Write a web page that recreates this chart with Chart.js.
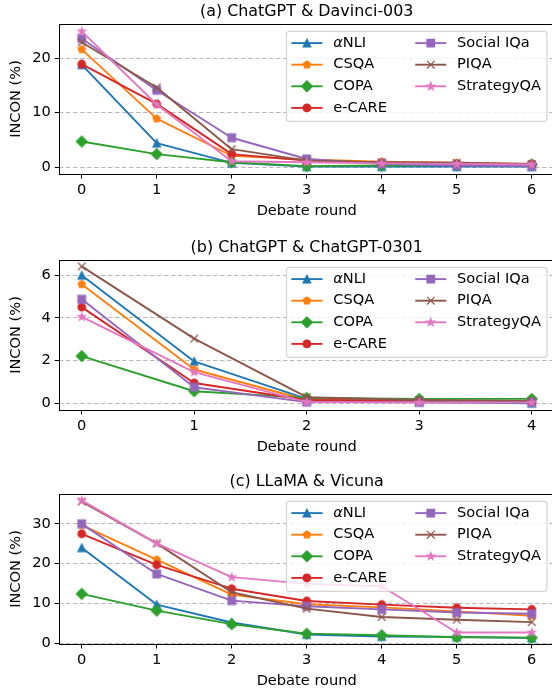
<!DOCTYPE html>
<html>
<head>
<meta charset="utf-8">
<script src="https://cdn.jsdelivr.net/npm/chart.js@4/dist/chart.umd.min.js"></script>
<style>
html,body{margin:0;padding:0;background:#fff;overflow:hidden;width:552px;height:696px;position:relative;}
.panel{position:absolute;left:0;width:560px;height:235px;}
canvas{display:block;}
</style>
</head>
<body>
<div class="panel" style="top:0px"><canvas id="chartA" width="560" height="235"></canvas></div>
<div class="panel" style="top:236px"><canvas id="chartB" width="560" height="235"></canvas></div>
<div class="panel" style="top:470px"><canvas id="chartC" width="560" height="235"></canvas></div>
<script>
// ---------------- data ----------------
const seriesNames   = ['αNLI', 'CSQA', 'COPA', 'e-CARE', 'Social IQa', 'PIQA', 'StrategyQA'];
const seriesColors  = ['#1f77b4', '#ff7f0e', '#2ca02c', '#d62728', '#9467bd', '#8c564b', '#e377c2'];
const seriesMarkers = ['triangle', 'pentagon', 'diamond', 'circle', 'square', 'x', 'star'];

const titleA = '(a) ChatGPT & Davinci-003';
const titleB = '(b) ChatGPT & ChatGPT-0301';
const titleC = '(c) LLaMA & Vicuna';
const xAxisLabel = 'Debate round';
const yAxisLabel = 'INCON (%)';

const roundsA = [0, 1, 2, 3, 4, 5, 6];
const roundsB = [0, 1, 2, 3, 4];
const roundsC = [0, 1, 2, 3, 4, 5, 6];

const yTicksA = [0, 10, 20];
const yTicksB = [0, 2, 4, 6];
const yTicksC = [0, 10, 20, 30];

// (a) ChatGPT & Davinci-003
const a_aNLI       = [18.8, 4.4, 0.8, 0.1, 0.1, 0.1, 0.1];
const a_CSQA       = [21.6, 8.9, 2.1, 1.4, 1.0, 0.8, 0.6];
const a_COPA       = [4.7, 2.4, 0.9, 0.2, 0.3, 0.4, 0.5];
const a_eCARE      = [18.9, 11.6, 2.4, 1.2, 0.8, 0.6, 0.5];
const a_SocialIQa  = [23.6, 14.1, 5.4, 1.5, 0.6, 0.3, 0.2];
const a_PIQA       = [22.9, 14.6, 3.3, 1.2, 0.9, 0.8, 0.6];
const a_StrategyQA = [24.9, 11.5, 1.1, 0.9, 0.7, 0.6, 0.5];

// (b) ChatGPT & ChatGPT-0301
const b_aNLI       = [6.0, 1.96, 0.2, 0.05, 0.0];
const b_CSQA       = [5.58, 1.58, 0.15, 0.1, 0.05];
const b_COPA       = [2.21, 0.56, 0.25, 0.2, 0.2];
const b_eCARE      = [4.51, 0.95, 0.15, 0.1, 0.05];
const b_SocialIQa  = [4.88, 0.75, 0.05, 0.05, 0.05];
const b_PIQA       = [6.42, 3.03, 0.28, 0.15, 0.1];
const b_StrategyQA = [4.05, 1.46, 0.05, 0.03, 0.03];

// (c) LLaMA & Vicuna
const c_aNLI       = [24.0, 9.7, 5.2, 2.2, 1.7, 1.6, 1.3];
const c_CSQA       = [29.7, 21.0, 12.2, 9.8, 9.0, 8.0, 6.9];
const c_COPA       = [12.4, 8.2, 4.8, 2.4, 2.0, 1.5, 1.4];
const c_eCARE      = [27.5, 19.7, 13.7, 10.6, 9.7, 8.9, 8.5];
const c_SocialIQa  = [30.0, 17.4, 10.7, 9.3, 8.5, 7.7, 7.4];
const c_PIQA       = [35.6, 25.1, 12.8, 8.7, 6.6, 5.9, 5.3];
const c_StrategyQA = [35.9, 25.1, 16.6, 14.9, 14.3, 2.7, 2.7];

// ---------------- style ----------------
const FONT = 'DejaVu Sans';
const FS = 14.6;       // label font size (px)
const TITLE_FS = 15.9;
const MS = 7.6;        // marker size
const MEW = 1.22;      // marker edge width
const LW = 1.9;        // line width

function markerPath(ctx, shape, x, y, ms) {
  const r = ms / 2;
  ctx.beginPath();
  if (shape === 'circle') {
    ctx.arc(x, y, r, 0, Math.PI * 2);
  } else if (shape === 'triangle') {
    ctx.moveTo(x, y - r); ctx.lineTo(x + r, y + r); ctx.lineTo(x - r, y + r); ctx.closePath();
  } else if (shape === 'square') {
    ctx.rect(x - r, y - r, ms, ms);
  } else if (shape === 'diamond') {
    const d = r * Math.SQRT2;
    ctx.moveTo(x, y - d); ctx.lineTo(x + d, y); ctx.lineTo(x, y + d); ctx.lineTo(x - d, y); ctx.closePath();
  } else if (shape === 'pentagon') {
    for (let k = 0; k < 5; k++) {
      const a = -Math.PI / 2 + k * 2 * Math.PI / 5;
      const px = x + r * Math.cos(a), py = y + r * Math.sin(a);
      if (k === 0) ctx.moveTo(px, py); else ctx.lineTo(px, py);
    }
    ctx.closePath();
  } else if (shape === 'star') {
    const ri = r * 0.381966;
    for (let k = 0; k < 10; k++) {
      const a = -Math.PI / 2 + k * Math.PI / 5;
      const rr = (k % 2 === 0) ? r : ri;
      const px = x + rr * Math.cos(a), py = y + rr * Math.sin(a);
      if (k === 0) ctx.moveTo(px, py); else ctx.lineTo(px, py);
    }
    ctx.closePath();
  } else if (shape === 'x') {
    ctx.moveTo(x - r, y - r); ctx.lineTo(x + r, y + r);
    ctx.moveTo(x - r, y + r); ctx.lineTo(x + r, y - r);
  }
}

function drawMarker(ctx, shape, x, y, color) {
  ctx.save();
  markerPath(ctx, shape, x, y, MS);
  ctx.lineWidth = MEW;
  ctx.strokeStyle = color;
  ctx.lineJoin = 'miter';
  ctx.lineCap = 'butt';
  if (shape !== 'x') { ctx.fillStyle = color; ctx.fill(); }
  ctx.stroke();
  ctx.restore();
}

function makePointImage(shape, color) {
  const c = document.createElement('canvas');
  c.width = 20; c.height = 20;
  drawMarker(c.getContext('2d'), shape, 10, 10, color);
  return c;
}
const pointImages = seriesMarkers.map((m, i) => makePointImage(m, seriesColors[i]));

// ---------------- plugin: frame, title, legend ----------------
const decorPlugin = {
  id: 'decor',
  afterDatasetsDraw(chart) {
    const {ctx, chartArea: a} = chart;
    ctx.save();
    ctx.strokeStyle = '#000';
    ctx.lineWidth = 1;
    const l = Math.round(a.left) + 0.5, t = Math.round(a.top) + 0.5;
    const r = Math.round(a.right) + 0.5, b = Math.round(a.bottom) + 0.5;
    ctx.strokeRect(l, t, r - l, b - t);
    ctx.restore();
  },
  afterDraw(chart, args, opts) {
    const {ctx, chartArea: a} = chart;
    // title
    ctx.save();
    ctx.fillStyle = '#000';
    ctx.font = TITLE_FS + 'px "' + FONT + '"';
    ctx.textAlign = 'center';
    ctx.textBaseline = 'middle';
    ctx.fillText(opts.title, (a.left + a.right) / 2, 11.7);
    ctx.restore();

    // legend (2 columns, column-major, upper right)
    const ds = chart.data.datasets;
    const nRows = Math.ceil(ds.length / 2);
    const bp = 0.4 * FS, hl = 2.0 * FS, htp = 0.8 * FS, cs = 2.0 * FS;
    const rowStep = 21.6, firstRow = 11.8, boxH = 90;
    ctx.save();
    ctx.font = FS + 'px "' + FONT + '"';
    const textW = (label) => {
      if (label.startsWith('α')) {
        ctx.font = 'italic ' + FS + 'px "' + FONT + '"';
        const w1 = ctx.measureText('α').width;
        ctx.font = FS + 'px "' + FONT + '"';
        return w1 + ctx.measureText(label.slice(1)).width;
      }
      return ctx.measureText(label).width;
    };
    const cols = [ds.slice(0, nRows), ds.slice(nRows)];
    const colW = cols.map(c => hl + htp + Math.max(...c.map(d => textW(d.label))));
    const boxW = 2 * bp + colW[0] + cs + colW[1];
    const right = a.right - 0.5 * FS;
    const top = a.top + 0.5 * FS;
    const left = right - boxW;
    // frame
    ctx.beginPath();
    ctx.roundRect(left, top, boxW, boxH, 0.2 * FS);
    ctx.fillStyle = 'rgba(255,255,255,0.8)';
    ctx.fill();
    ctx.lineWidth = 1.22;
    ctx.strokeStyle = 'rgba(204,204,204,0.8)';
    ctx.stroke();
    // entries
    cols.forEach((col, ci) => {
      const x0 = left + bp + (ci === 1 ? colW[0] + cs : 0);
      col.forEach((d, ri) => {
        const y = top + firstRow + ri * rowStep;
        ctx.save();
        ctx.strokeStyle = d.borderColor;
        ctx.lineWidth = LW;
        ctx.lineCap = 'square';
        ctx.beginPath();
        ctx.moveTo(x0, y); ctx.lineTo(x0 + hl, y);
        ctx.stroke();
        ctx.restore();
        drawMarker(ctx, d.markerShape, x0 + hl / 2, y, d.borderColor);
        ctx.fillStyle = '#000';
        ctx.textAlign = 'left';
        ctx.textBaseline = 'middle';
        let tx = x0 + hl + htp;
        let label = d.label;
        if (label.startsWith('α')) {
          ctx.font = 'italic ' + FS + 'px "' + FONT + '"';
          ctx.fillText('α', tx, y);
          tx += ctx.measureText('α').width;
          label = label.slice(1);
        }
        ctx.font = FS + 'px "' + FONT + '"';
        ctx.fillText(label, tx, y);
      });
    });
    ctx.restore();
  }
};

// ---------------- chart builder ----------------
function buildDatasets(rounds, seriesValues) {
  return seriesValues.map((vals, i) => ({
    label: seriesNames[i],
    markerShape: seriesMarkers[i],
    data: vals.map((v, j) => ({x: rounds[j], y: v})),
    borderColor: seriesColors[i],
    backgroundColor: seriesColors[i],
    borderWidth: LW,
    borderJoinStyle: 'round',
    pointStyle: pointImages[i],
    pointRadius: 5,
    pointHoverRadius: 5,
    pointBorderWidth: 0,
    tension: 0,
    fill: false,
    order: seriesValues.length - i
  }));
}

function makeChart(id, title, rounds, xMin, xMax, yMin, yMax, yTicks, seriesValues) {
  const font = {family: FONT, size: FS};
  return new Chart(document.getElementById(id), {
    type: 'line',
    data: {datasets: buildDatasets(rounds, seriesValues)},
    options: {
      responsive: false,
      animation: false,
      devicePixelRatio: 1,
      events: [],
      layout: {padding: {top: 24, right: 5.8, left: 0, bottom: 0}},
      plugins: {
        legend: {display: false},
        tooltip: {enabled: false},
        title: {display: false},
        decor: {title: title}
      },
      scales: {
        x: {
          type: 'linear',
          min: xMin, max: xMax,
          afterBuildTicks: ax => { ax.ticks = rounds.map(v => ({value: v})); },
          afterFit: ax => { ax.height = 61; },
          grid: {drawOnChartArea: false, drawTicks: true, tickLength: 4.5, tickColor: '#000', tickWidth: 1},
          border: {display: false},
          ticks: {color: '#000', font: font, padding: 3, maxRotation: 0, autoSkip: false, callback: v => String(v)},
          title: {display: true, text: xAxisLabel, color: '#000', font: font, padding: {top: 0, bottom: 15.2}}
        },
        y: {
          type: 'linear',
          min: yMin, max: yMax,
          afterBuildTicks: ax => { ax.ticks = yTicks.map(v => ({value: v})); },
          afterFit: ax => { ax.width = 59.2; },
          grid: {color: '#b8b8b8', lineWidth: 1, drawTicks: true, tickLength: 4.5, tickColor: '#000', tickWidth: 1},
          border: {display: false, dash: [4.5, 2.5]},
          ticks: {color: '#000', font: font, padding: 4, callback: v => String(v)},
          title: {display: true, text: yAxisLabel, color: '#000', font: font, padding: {top: 7.2, bottom: 0}}
        }
      }
    },
    plugins: [decorPlugin]
  });
}

makeChart('chartA', titleA, roundsA, -0.3, 6.3, -1.25, 26.25, yTicksA,
  [a_aNLI, a_CSQA, a_COPA, a_eCARE, a_SocialIQa, a_PIQA, a_StrategyQA]);
makeChart('chartB', titleB, roundsB, -0.2, 4.2, -0.32, 6.72, yTicksB,
  [b_aNLI, b_CSQA, b_COPA, b_eCARE, b_SocialIQa, b_PIQA, b_StrategyQA]);
makeChart('chartC', titleC, roundsC, -0.3, 6.3, -0.2, 37.5, yTicksC,
  [c_aNLI, c_CSQA, c_COPA, c_eCARE, c_SocialIQa, c_PIQA, c_StrategyQA]);
</script>
</body>
</html>
